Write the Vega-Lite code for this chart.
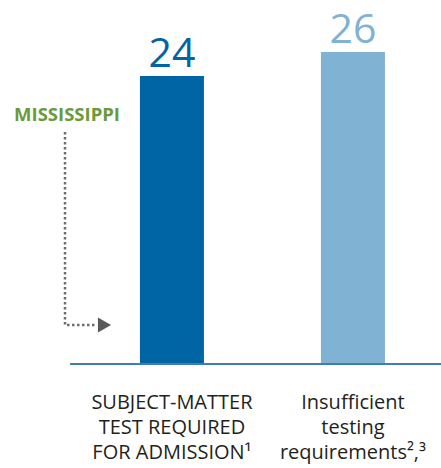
{
  "$schema": "https://vega.github.io/schema/vega-lite/v6.json",
  "width": 441,
  "height": 364,
  "autosize": "none",
  "padding": {"left": 0, "top": 0, "right": 0, "bottom": 104},
  "background": "white",
  "config": {"view": {"stroke": null}, "font": "Open Sans"},
  "datasets": {
    "bars": [
      {"category": "SUBJECT-MATTER|TEST REQUIRED|FOR ADMISSION¹", "value": 24, "group": "required"},
      {"category": "Insufficient|testing|requirements²,³", "value": 26, "group": "insufficient"}
    ],
    "path": [
      {"pos": 14.74, "level": 19.33, "order": 1},
      {"pos": 14.74, "level": 3.25, "order": 2},
      {"pos": 22.0, "level": 3.25, "order": 3}
    ],
    "arrow": [{"pos": 23.7, "level": 3.25}],
    "note": [{"pos": 15.2, "level": 20.25, "text": "MISSISSIPPI"}],
    "base": [{"start": 15.9, "end": 100, "level": 0}]
  },
  "layer": [
    {
      "data": {"name": "bars"},
      "encoding": {
        "x": {
          "field": "category", "type": "nominal", "sort": null,
          "scale": {"paddingInner": 0.6464, "paddingOuter": 0.5414, "align": 0.714},
          "axis": {
            "title": null, "domain": false, "ticks": false, "tickSize": 0,
            "labelPadding": 28, "labelFontSize": 20, "labelColor": "#231f20",
            "labelLineHeight": 25, "labelAngle": 0, "labelLimit": 0,
            "labelFont": "Open Sans",
            "labelExpr": "split(datum.label, '|')"
          }
        },
        "y": {
          "field": "value", "type": "quantitative",
          "scale": {"domain": [0, 30.33], "nice": false}, "axis": null
        },
        "color": {
          "field": "group", "type": "nominal",
          "scale": {"domain": ["required", "insufficient"], "range": ["#0065a4", "#80b2d4"]},
          "legend": null
        }
      },
      "layer": [
        {"mark": {"type": "bar"}},
        {"mark": {"type": "text", "baseline": "alphabetic", "dy": -8.5, "fontSize": 41, "font": "Open Sans"},
         "encoding": {"text": {"field": "value", "type": "quantitative"}}}
      ]
    },
    {
      "layer": [
        {
          "data": {"name": "base"},
          "mark": {"type": "rule", "color": "#3f7db2", "strokeWidth": 2},
          "encoding": {
            "x": {"field": "start", "type": "quantitative", "scale": {"domain": [0, 100], "nice": false, "zero": false}, "axis": null},
            "x2": {"field": "end"},
            "y": {"field": "level", "type": "quantitative", "scale": {"domain": [0, 30.33], "nice": false}, "axis": null}
          }
        },
        {
          "data": {"name": "path"},
          "mark": {"type": "line", "color": "#6d6e71", "strokeWidth": 2.5, "strokeDash": [2.5, 2.5]},
          "encoding": {
            "x": {"field": "pos", "type": "quantitative", "scale": {"domain": [0, 100], "nice": false, "zero": false}, "axis": null},
            "y": {"field": "level", "type": "quantitative", "scale": {"domain": [0, 30.33], "nice": false}, "axis": null},
            "order": {"field": "order"}
          }
        },
        {
          "data": {"name": "arrow"},
          "mark": {"type": "point", "shape": "triangle-right", "filled": true, "color": "#58595b", "opacity": 1, "size": 230},
          "encoding": {
            "x": {"field": "pos", "type": "quantitative", "scale": {"domain": [0, 100], "nice": false, "zero": false}, "axis": null},
            "y": {"field": "level", "type": "quantitative", "scale": {"domain": [0, 30.33], "nice": false}, "axis": null}
          }
        },
        {
          "data": {"name": "note"},
          "mark": {"type": "text", "baseline": "alphabetic", "align": "center", "fontSize": 18.5, "fontWeight": "bold", "color": "#6a9a3a", "font": "Open Sans"},
          "encoding": {
            "x": {"field": "pos", "type": "quantitative", "scale": {"domain": [0, 100], "nice": false, "zero": false}, "axis": null},
            "y": {"field": "level", "type": "quantitative", "scale": {"domain": [0, 30.33], "nice": false}, "axis": null},
            "text": {"field": "text"}
          }
        }
      ]
    }
  ],
  "resolve": {"scale": {"x": "independent", "color": "independent"}}
}
